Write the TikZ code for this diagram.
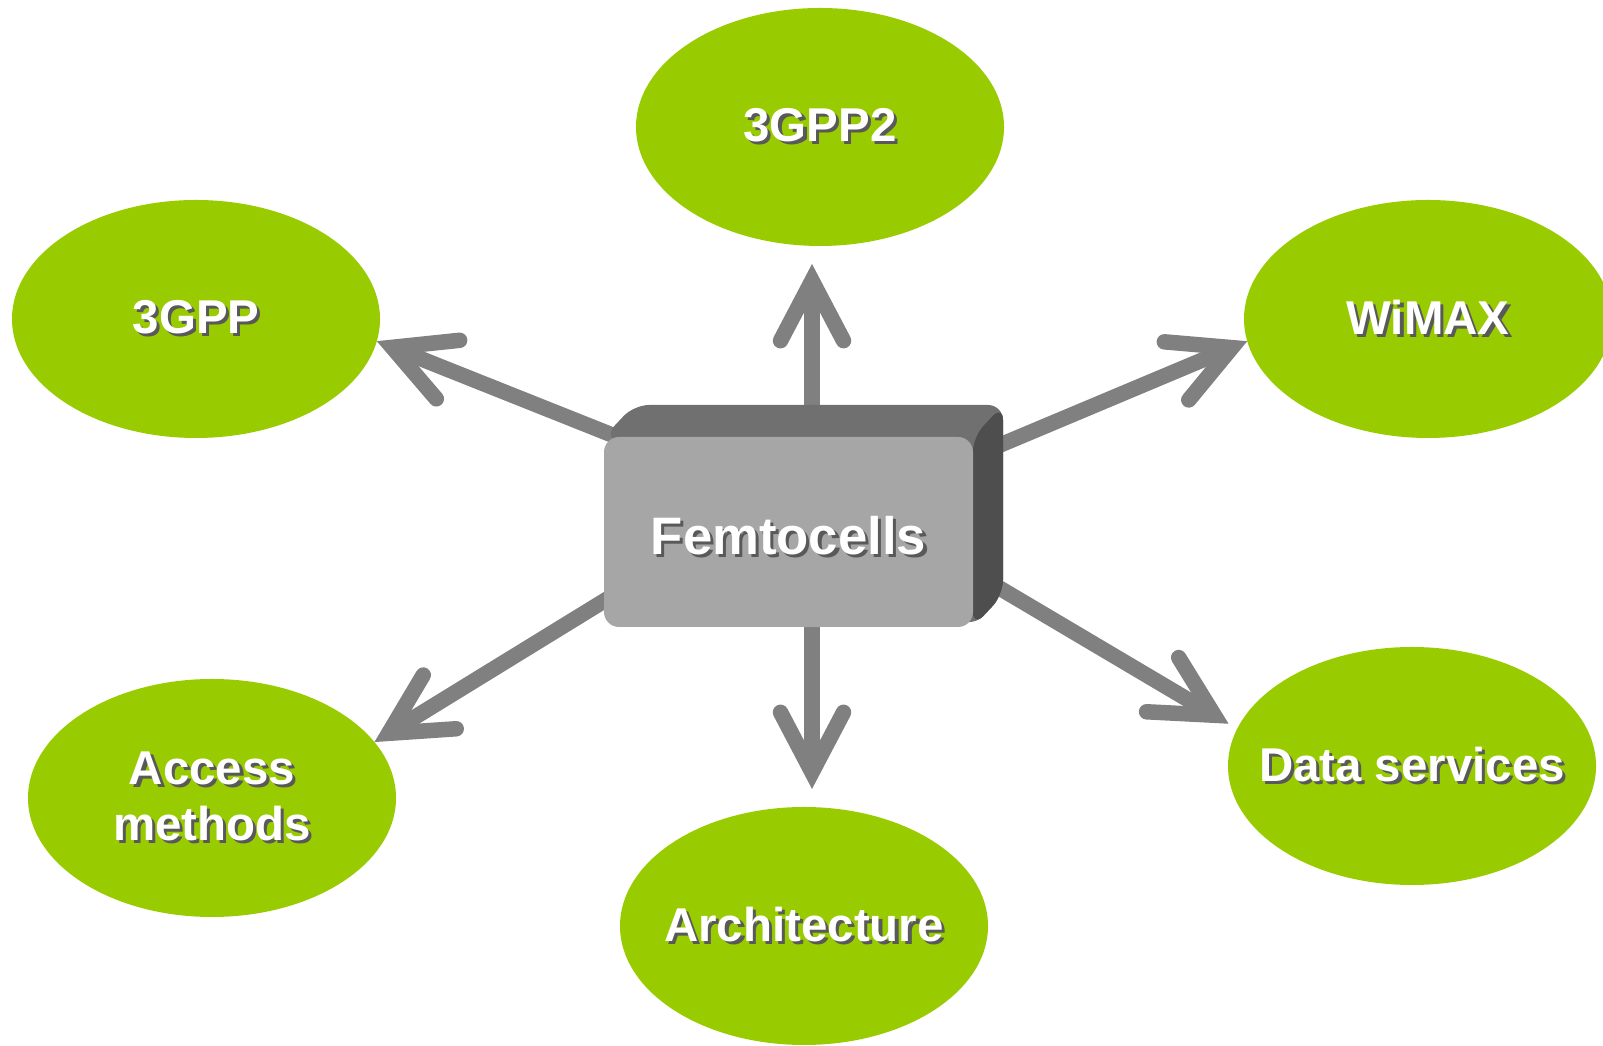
\documentclass[tikz,border=0pt]{standalone}
\usepackage{fontspec}
\setmainfont{Liberation Sans}
\usetikzlibrary{arrows.meta,calc,shapes.geometric}

\definecolor{topicgreen}{RGB}{153,204,0}
\definecolor{arrowgray}{RGB}{128,128,128}
\definecolor{frontgray}{RGB}{166,166,166}
\definecolor{topgray}{RGB}{112,112,112}
\definecolor{sidegray}{RGB}{78,78,78}

\pgfdeclarelayer{background}
\pgfsetlayers{background,main}

\newcommand{\shtext}[1]{\makebox[0pt]{\makebox[0pt][l]{\hspace{0.9pt}\raisebox{-0.9pt}{\textcolor{black!65}{#1}}}#1}}

\begin{document}
\begin{tikzpicture}[
  font=\bfseries\fontsize{13.5}{16}\selectfont,
  topic/.style={ellipse,fill=topicgreen,text=white,align=center,
    minimum width=3.68cm,minimum height=2.38cm,inner sep=0pt,outer sep=0pt},
  femtobox/.style={rectangle,rounded corners=0.15cm,fill=frontgray,text=white,
    minimum width=3.69cm,minimum height=1.90cm,outer sep=0pt,text height=0.48cm,
    font=\bfseries\fontsize{15}{18}\selectfont},
  conn/.style={draw=arrowgray,line width=0.155cm,
    -{Straight Barb[length=0.6cm,width=0.63cm,line cap=round,line join=miter]}}
]
  \clip (0,0) rectangle (16.03,10.46);

  \node[topic] (g2) at (8.20,9.19) {\shtext{3GPP2}};
  \node[topic] (g3) at (1.96,7.27) {\shtext{3GPP}};
  \node[topic] (wimax) at (14.28,7.27) {\shtext{WiMAX}};
  \node[topic] (access) at (2.12,2.48) {\shtext{Access}\\\shtext{methods}};
  \node[topic] (arch) at (8.04,1.20) {\shtext{Architecture}};
  \node[topic] (data) at (14.12,2.80) {\shtext{Data services}};

  \node[femtobox] (femto) at (7.885,5.14) {\shtext{Femtocells}};

  \begin{pgfonlayer}{background}
    \coordinate (mid) at ($(femto.center)+(0.235,0)$);
    \draw[conn,shorten >=0.18cm] (mid) -- (mid |- g2.south);
    \draw[conn,shorten >=0.18cm] (mid) -- (mid |- arch.north);
    \draw[conn] ($(femto.center)+(-0.885,0.62)$) -- (g3.-7);
    \draw[conn] ($(femto.center)+(0.915,0.365)$) -- (wimax.187);
    \draw[conn] ($(femto.center)+(-0.885,-0.10)$) -- (access.19);
    \draw[conn,shorten >=0.1cm] ($(femto.center)+(0.915,0.147)$) -- (data.168);

    \fill[topgray,rounded corners=0.15cm] (femto.north west) -- ++(0.30,0.32)
      -- ($(femto.north east)+(0.30,0.32)$) -- ($(femto.south east)+(0.30,0.32)$)
      -- (femto.south east) -- cycle;
    \fill[sidegray,rounded corners=0.15cm] (femto.north east) -- ++(0.30,0.32)
      -- ($(femto.south east)+(0.30,0.32)$) -- (femto.south east) -- cycle;
  \end{pgfonlayer}
\end{tikzpicture}
\end{document}
